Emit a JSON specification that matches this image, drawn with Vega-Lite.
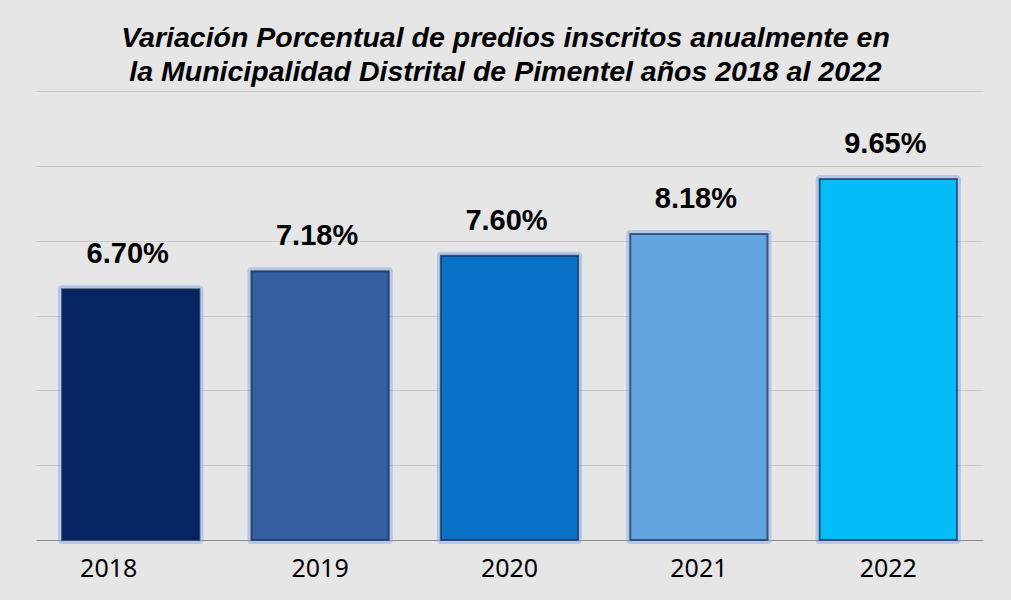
{
  "$schema": "https://vega.github.io/schema/vega-lite/v6.json",
  "width": 947,
  "height": 449,
  "autosize": {"type": "none"},
  "padding": {"left": 36, "top": 91, "right": 28, "bottom": 60},
  "background": "#e6e6e6",
  "title": {
    "text": ["Variación Porcentual de predios inscritos anualmente en", "la Municipalidad Distrital de Pimentel años 2018 al 2022"],
    "font": "Liberation Sans",
    "fontSize": 28.5,
    "fontWeight": "bold",
    "fontStyle": "italic",
    "color": "#000000",
    "anchor": "middle",
    "lineHeight": 34,
    "offset": 5,
    "dx": -4
  },
  "data": {
    "values": [
      {"year": "2018", "value": 6.70, "label": "6.70%", "color": "#062462"},
      {"year": "2019", "value": 7.18, "label": "7.18%", "color": "#355fa3"},
      {"year": "2020", "value": 7.60, "label": "7.60%", "color": "#0a72c6"},
      {"year": "2021", "value": 8.18, "label": "8.18%", "color": "#62a4df"},
      {"year": "2022", "value": 9.65, "label": "9.65%", "color": "#03bdfb"}
    ]
  },
  "encoding": {
    "x": {
      "field": "year",
      "type": "nominal",
      "sort": null,
      "scale": {"paddingInner": 0.275, "paddingOuter": 0.1375},
      "axis": {
        "title": null,
        "labelAngle": 0,
        "labelFont": "Noto Sans",
        "labelFontSize": 25,
        "labelColor": "#000000",
        "labelPadding": 16,
        "labelOffset": {"condition": {"test": "datum.value === '2018'", "value": -22}, "value": 0},
        "ticks": false,
        "domainColor": "#8a8a8a",
        "domainWidth": 1.2,
        "grid": false
      }
    },
    "y": {
      "field": "value",
      "type": "quantitative",
      "scale": {"domain": [0, 12], "nice": false},
      "axis": {
        "title": null,
        "labels": false,
        "ticks": false,
        "domain": false,
        "values": [2, 4, 6, 8, 10, 12],
        "gridColor": "#c9c9c9",
        "gridWidth": 1.2
      }
    }
  },
  "layer": [
    {
      "mark": {"type": "bar", "stroke": "#7fa9ee", "strokeWidth": 8, "strokeOpacity": 0.5, "strokeJoin": "round"},
      "encoding": {"color": {"field": "color", "type": "nominal", "scale": null}}
    },
    {
      "mark": {"type": "bar", "stroke": "#16253f", "strokeWidth": 2, "strokeOpacity": 0.65},
      "encoding": {"color": {"field": "color", "type": "nominal", "scale": null}}
    },
    {
      "mark": {"type": "text", "baseline": "alphabetic", "dy": -26, "dx": -3, "font": "Liberation Sans", "fontSize": 29, "fontWeight": "bold", "color": "#000000"},
      "encoding": {"text": {"field": "label"}}
    }
  ],
  "config": {"view": {"stroke": null}}
}
